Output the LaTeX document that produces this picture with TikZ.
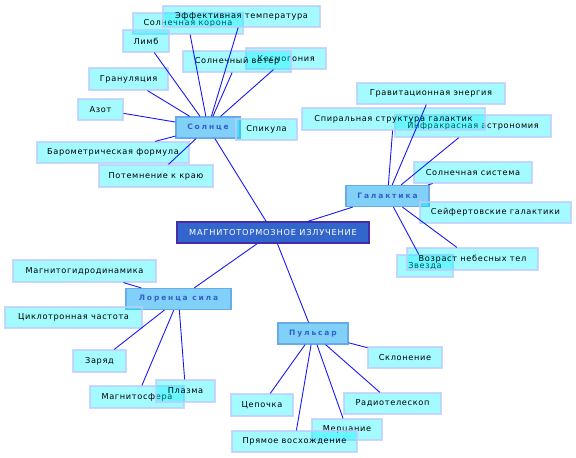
\documentclass[tikz,border=0pt]{standalone}
\usepackage{fontspec}
\setmainfont{DejaVu Sans}
\newfontfamily\leaffont[LetterSpace=8]{DejaVu Sans}
\newfontfamily\hubfont[LetterSpace=25]{DejaVu Sans}
\newfontfamily\corefont[LetterSpace=10]{DejaVu Sans}
\usetikzlibrary{positioning}
\definecolor{leafcyan}{RGB}{0,240,255}
\definecolor{leafedge}{RGB}{190,205,255}
\definecolor{hubfill}{RGB}{128,208,248}
\definecolor{hubedge}{RGB}{105,170,235}
\definecolor{hubtext}{RGB}{50,95,205}
\definecolor{corefill}{RGB}{51,102,204}
\definecolor{coreedge}{RGB}{70,45,165}
\definecolor{linkblue}{RGB}{25,25,245}

\begin{document}
\begin{tikzpicture}[x=1pt,y=-1pt,
  leaf/.style={draw=leafedge,line width=1.2pt,fill=leafcyan,fill opacity=.36,draw opacity=.8,text opacity=1,
    minimum height=21pt,inner sep=0pt,font=\leaffont\fontsize{8.2}{9}\selectfont},
  hub/.style={draw=hubedge,line width=1.2pt,fill=hubfill,minimum height=21pt,inner sep=0pt,
    text=hubtext,font=\hubfont\bfseries\fontsize{7.5}{9}\selectfont},
  core/.style={draw=coreedge,line width=1.2pt,fill=corefill,text=white,minimum height=21pt,inner sep=0pt,
    font=\corefont\fontsize{8.2}{9}\selectfont},
  link/.style={linkblue,line width=.9pt}]
\useasboundingbox (0,0) rectangle (576,458);
\node[core,minimum width=192pt] (core) at (273,232.5) {МАГНИТОТОРМОЗНОЕ ИЗЛУЧЕНИЕ};
\node[hub,minimum width=64pt] (sun) at (208,127.5) {Солнце};
\node[hub,minimum width=83pt] (galaxy) at (387.5,196) {Галактика};
\node[hub,minimum width=105pt] (lorentz) at (178.5,299) {Лоренца сила};
\node[hub,minimum width=70pt] (pulsar) at (313,333.5) {Пульсар};
\node[leaf,minimum width=61pt] (spicule) at (266.5,129.5) {Спикула};
\node[leaf,minimum width=110pt] (corona) at (188,23.5) {Солнечная корона};
\node[leaf,minimum width=157pt] (efftemp) at (241.5,16.5) {Эффективная температура};
\node[leaf,minimum width=46pt,minimum height=22pt] (limb) at (146,41) {Лимб};
\node[leaf,minimum width=80pt] (cosmog) at (286,58.5) {Космогония};
\node[leaf,minimum width=108pt] (wind) at (237,61.5) {Солнечный ветер};
\node[leaf,minimum width=79pt,minimum height=22pt] (granul) at (128.5,79) {Грануляция};
\node[leaf,minimum width=45pt] (nitrogen) at (100.5,109.5) {Азот};
\node[leaf,minimum width=152pt] (barom) at (113,152.5) {Барометрическая формула};
\node[leaf,minimum width=114pt,minimum height=22pt] (limbdark) at (156,176) {Потемнение к краю};
\node[leaf,minimum width=148pt] (gravity) at (431,93.5) {Гравитационная энергия};
\node[leaf,minimum width=156pt,minimum height=22pt] (infrared) at (473,126) {Инфракрасная астрономия};
\node[leaf,minimum width=183pt,minimum height=22pt] (spiral) at (393.5,119) {Спиральная структура галактик};
\node[leaf,minimum width=118pt] (solsys) at (473,172.5) {Солнечная система};
\node[leaf,minimum width=151pt] (seyfert) at (495.5,212.5) {Сейфертовские галактики};
\node[leaf,minimum width=56pt,minimum height=22pt] (star) at (425,266) {Звезда};
\node[leaf,minimum width=131pt,minimum height=22pt] (age) at (472.5,259) {Возраст небесных тел};
\node[leaf,minimum width=143pt,minimum height=22pt] (mhd) at (84.5,271) {Магнитогидродинамика};
\node[leaf,minimum width=137pt] (cyclo) at (73.5,317.5) {Циклотронная частота};
\node[leaf,minimum width=53pt,minimum height=22pt] (charge) at (99.5,361) {Заряд};
\node[leaf,minimum width=94pt,minimum height=22pt] (magsph) at (137,397) {Магнитосфера};
\node[leaf,minimum width=59pt,minimum height=22pt] (plasma) at (185.5,391) {Плазма};
\node[leaf,minimum width=74pt] (decl) at (405,357.5) {Склонение};
\node[leaf,minimum width=62pt,minimum height=22pt] (chain) at (262,405) {Цепочка};
\node[leaf,minimum width=97pt] (radio) at (392.5,403.5) {Радиотелескоп};
\node[leaf,minimum width=70pt] (twinkle) at (347,429.5) {Мерцание};
\node[leaf,minimum width=125pt] (ascension) at (294.5,441.5) {Прямое восхождение};
\draw[link] (core) -- (sun) (core) -- (galaxy) (core) -- (lorentz) (core) -- (pulsar);
\draw[link] (sun) -- (corona) (sun) -- (efftemp) (sun) -- (limb)
  (sun) -- (cosmog) (sun) -- (wind) (sun) -- (granul) (sun) -- (nitrogen)
  (sun) -- (barom) (sun) -- (limbdark);
\draw[link] (galaxy) -- (gravity) (galaxy) -- (infrared) (galaxy) -- (spiral)
  (galaxy) -- (solsys) (galaxy) -- (star) (galaxy) -- (age);
\draw[link] (lorentz) -- (mhd) (lorentz) -- (charge)
  (lorentz) -- (magsph) (lorentz) -- (plasma);
\draw[link] (pulsar) -- (decl) (pulsar) -- (chain) (pulsar) -- (radio)
  (pulsar) -- (twinkle) (pulsar) -- (ascension);
\end{tikzpicture}
\end{document}
